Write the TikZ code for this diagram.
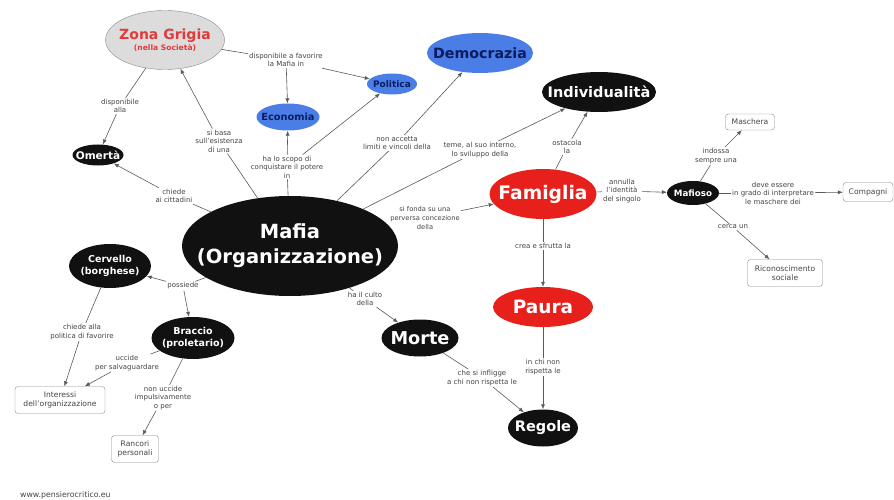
\documentclass[tikz,border=0pt]{standalone}
\usepackage{fontspec}
\setmainfont{DejaVu Sans}
\usetikzlibrary{shapes.geometric,arrows.meta}
\definecolor{nero}{HTML}{111111}
\definecolor{rosso}{HTML}{E8201C}
\definecolor{blu}{HTML}{4A7DE6}
\definecolor{navy}{HTML}{0B1C5E}
\definecolor{grigio}{HTML}{DCDCDC}
\definecolor{bordo}{HTML}{8A8A8A}
\definecolor{linea}{HTML}{5A5A5A}
\definecolor{testo}{HTML}{444444}
\definecolor{zona}{HTML}{E23A3A}

\begin{document}
\begin{tikzpicture}[x=1pt,y=-1pt,
    concept/.style={ellipse,inner sep=-40pt,align=center},
    dark/.style={concept,fill=nero,text=white},
    redc/.style={concept,fill=rosso,text=white},
    bluec/.style={concept,fill=blu,text=navy},
    box/.style={rectangle,rounded corners=3pt,draw=bordo,fill=white,align=center,
        inner sep=0pt,text=testo,font=\fontsize{7.6}{9.6}\selectfont},
    link/.style={align=center,inner sep=1pt,text=testo,font=\fontsize{7}{8.6}\selectfont},
    line/.style={draw=linea,line width=.6pt},
    arr/.style={line,-{Latex[length=5pt,width=4pt]}}]
    \useasboundingbox[fill=white] (0,0) rectangle (894,500);
    % concetti
    \node[concept,fill=grigio,draw=bordo,minimum width=119,minimum height=59] (zona) at (165,40)
        {\textcolor{zona}{\bfseries\fontsize{14}{16}\selectfont Zona Grigia}\\[-1pt]
         \textcolor{zona}{\bfseries\fontsize{7.6}{9}\selectfont(nella Società)}};
    \node[bluec,minimum width=63,minimum height=27,font=\bfseries\fontsize{9.8}{11}\selectfont] (eco) at (288,117) {Economia};
    \node[bluec,minimum width=50,minimum height=21,font=\bfseries\fontsize{9}{10}\selectfont] (pol) at (392,84) {Politica};
    \node[bluec,minimum width=106,minimum height=40,font=\bfseries\fontsize{14.2}{16}\selectfont] (demo) at (480,53) {Democrazia};
    \node[dark,minimum width=114,minimum height=40,font=\bfseries\fontsize{14.5}{16}\selectfont] (indiv) at (599,92) {Individualità};
    \node[dark,minimum width=51,minimum height=21,font=\bfseries\fontsize{10.5}{12}\selectfont] (omerta) at (98,155) {Omertà};
    \node[dark,minimum width=216,minimum height=100,font=\bfseries\fontsize{19.5}{25}\selectfont] (mafia) at (290,246)
        {Mafia\\(Organizzazione)};
    \node[redc,minimum width=107,minimum height=50,font=\bfseries\fontsize{18.7}{21}\selectfont] (fam) at (543,194) {Famiglia};
    \node[dark,minimum width=52,minimum height=24,font=\bfseries\fontsize{8.7}{10}\selectfont] (mafioso) at (693,193) {Mafioso};
    \node[box,minimum width=49,minimum height=16] (masc) at (750,122) {Maschera};
    \node[box,minimum width=50,minimum height=19] (comp) at (868,192) {Compagni};
    \node[box,minimum width=75,minimum height=27] (ricon) at (785,273) {Riconoscimento\\sociale};
    \node[dark,minimum width=82,minimum height=44,font=\bfseries\fontsize{9.5}{11.5}\selectfont] (cerv) at (110,266)
        {Cervello\\(borghese)};
    \node[dark,minimum width=83,minimum height=42,font=\bfseries\fontsize{9.5}{11.5}\selectfont] (brac) at (193,338)
        {Braccio\\(proletario)};
    \node[dark,minimum width=77,minimum height=37,font=\bfseries\fontsize{17.7}{20}\selectfont] (morte) at (420,338) {Morte};
    \node[redc,minimum width=100,minimum height=40,font=\bfseries\fontsize{18.5}{20}\selectfont] (paura) at (543,307) {Paura};
    \node[dark,minimum width=70,minimum height=37,font=\bfseries\fontsize{14.5}{16}\selectfont] (regole) at (543,428) {Regole};
    \node[box,minimum width=90,minimum height=27] (inter) at (60,400) {Interessi\\dell'organizzazione};
    \node[box,minimum width=47,minimum height=27] (ranc) at (135,449) {Rancori\\personali};
    \node[anchor=west,text=testo,font=\fontsize{7.8}{9}\selectfont,inner sep=0pt] (sito) at (20,495) {www.pensierocritico.eu};
    % frasi di collegamento
    \node[link] (lfav) at (286,60) {disponibile a favorire\\la Mafia in};
    \node[link] (lalla) at (120,106) {disponibile\\alla};
    \node[link] (lbasa) at (219,141) {si basa\\sull'esistenza\\di una};
    \node[link] (lscopo) at (287,167) {ha lo scopo di\\conquistare il potere\\in};
    \node[link] (lacc) at (397,143) {non accetta\\limiti e vincoli della};
    \node[link] (lteme) at (480,150) {teme, al suo interno,\\lo sviluppo della};
    \node[link,font=\fontsize{6.7}{8.6}\selectfont] (lfonda) at (425,218) {si fonda su una\\perversa concezione\\della};
    \node[link] (lchiede) at (174,196) {chiede\\ai cittadini};
    \node[link] (lposs) at (183,286) {possiede};
    \node[link] (lculto) at (365,299) {ha il culto\\della};
    \node[link] (lostac) at (567,147) {ostacola\\la};
    \node[link] (lannul) at (622,191) {annulla\\l'identità\\del singolo};
    \node[link] (lcrea) at (543,246) {crea e sfrutta la};
    \node[link] (lindos) at (716,156) {indossa\\sempre una};
    \node[link] (ldeve) at (773,193) {deve essere\\in grado di interpretare\\le maschere dei};
    \node[link] (lcerca) at (733,227) {cerca un};
    \node[link] (lpolit) at (82,332) {chiede alla\\politica di favorire};
    \node[link] (luccide) at (127,363) {uccide\\per salvaguardare};
    \node[link] (lnonucc) at (163,398) {non uccide\\impulsivamente\\o per};
    \node[link] (linfl) at (482,378) {che si infligge\\a chi non rispetta le};
    \node[link] (lrisp) at (543,367) {in chi non\\rispetta le};
    % collegamenti
    \draw[line] (zona) -- (lfav);
    \draw[arr] (lfav) -- (eco);
    \draw[arr] (lfav) -- (pol);
    \draw[line] (zona) -- (lalla);
    \draw[arr] (lalla) -- (omerta);
    \draw[line] (mafia) -- (lbasa);
    \draw[arr] (lbasa) -- (zona);
    \draw[line] (mafia) -- (lscopo);
    \draw[arr] (lscopo) -- (eco);
    \draw[arr] (lscopo) -- (pol);
    \draw[line] (mafia) -- (lacc);
    \draw[arr] (lacc) -- (demo);
    \draw[line] (mafia) -- (lteme);
    \draw[arr] (lteme) -- (indiv);
    \draw[line] (mafia) -- (lfonda);
    \draw[arr] (lfonda) -- (fam);
    \draw[line] (mafia) -- (lchiede);
    \draw[arr] (lchiede) -- (omerta);
    \draw[line] (mafia) -- (lposs);
    \draw[arr] (lposs) -- (cerv);
    \draw[arr] (lposs) -- (brac);
    \draw[line] (mafia) -- (lculto);
    \draw[arr] (lculto) -- (morte);
    \draw[line] (fam) -- (lostac);
    \draw[arr] (lostac) -- (indiv);
    \draw[line] (fam) -- (lannul);
    \draw[arr] (lannul) -- (mafioso);
    \draw[line] (fam) -- (lcrea);
    \draw[arr] (lcrea) -- (paura);
    \draw[line] (mafioso) -- (lindos);
    \draw[arr] (lindos) -- (masc);
    \draw[line] (mafioso) -- (ldeve);
    \draw[arr] (ldeve) -- (comp);
    \draw[line] (mafioso) -- (lcerca);
    \draw[arr] (lcerca) -- (ricon);
    \draw[line] (cerv) -- (lpolit);
    \draw[arr] (lpolit) -- (inter);
    \draw[line] (brac) -- (luccide);
    \draw[arr] (luccide) -- (inter);
    \draw[line] (brac) -- (lnonucc);
    \draw[arr] (lnonucc) -- (ranc);
    \draw[line] (morte) -- (linfl);
    \draw[arr] (linfl) -- (regole);
    \draw[line] (paura) -- (lrisp);
    \draw[arr] (lrisp) -- (regole);
\end{tikzpicture}
\end{document}
